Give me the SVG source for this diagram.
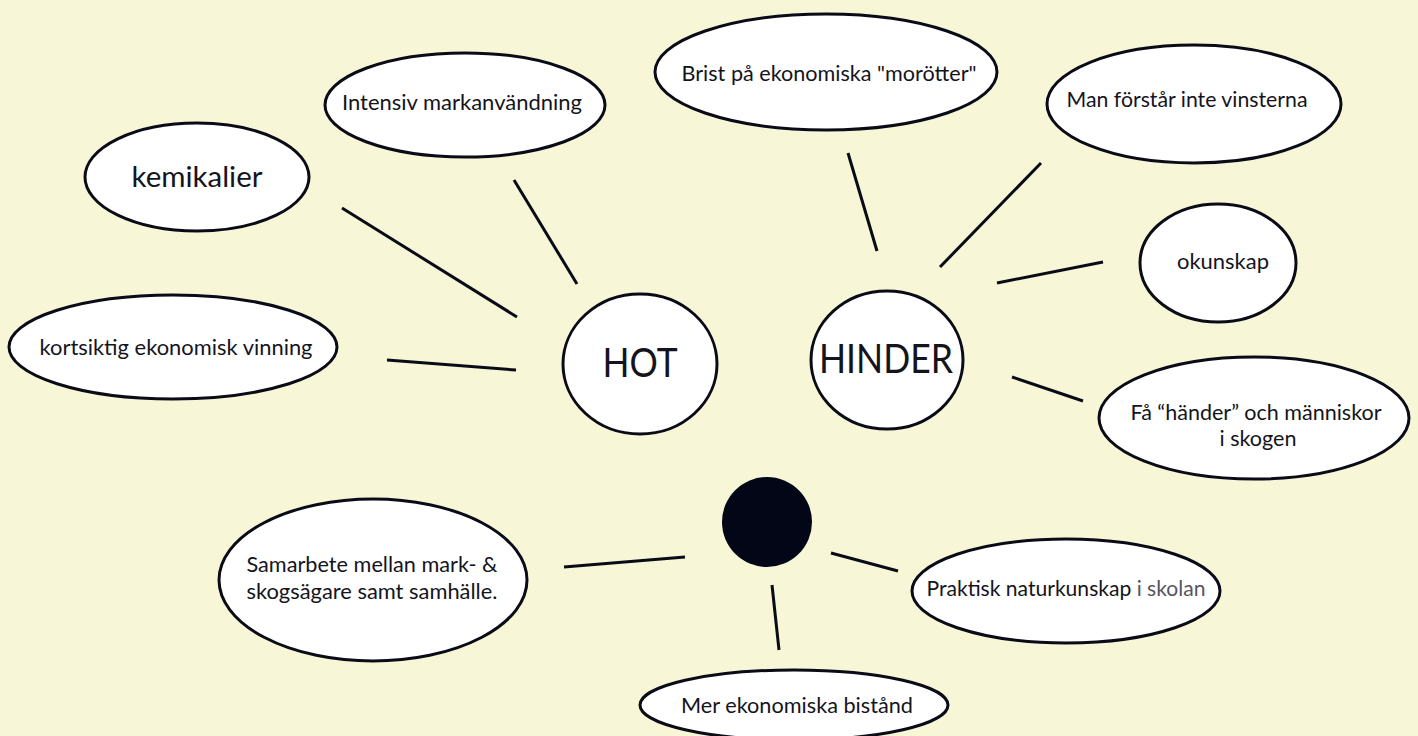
<svg xmlns="http://www.w3.org/2000/svg" width="1418" height="736" viewBox="0 0 1418 736">
<style>
.bg{fill:#f7f7d8}
.node{fill:#ffffff;stroke:#0b0b18;stroke-width:3}
.dot{fill:#030616;stroke:none}
.edge{stroke:#0b0b18;stroke-width:3;fill:none;stroke-linecap:butt}
text{font-family:Lato,"Liberation Sans",sans-serif;fill:#14141c;text-anchor:middle}
.s{font-size:21px}
.m{font-size:29px}
.l{font-size:40px}
.fade{fill:#55555f}
</style>
<rect class="bg" x="0" y="0" width="1418" height="736"/>
<g id="connectors">
<line class="edge" x1="342" y1="208" x2="517" y2="317"/>
<line class="edge" x1="514" y1="180" x2="577" y2="284"/>
<line class="edge" x1="387" y1="360" x2="516" y2="370"/>
<line class="edge" x1="848" y1="153" x2="877" y2="251"/>
<line class="edge" x1="1041" y1="163" x2="940" y2="267"/>
<line class="edge" x1="997" y1="283" x2="1103" y2="262"/>
<line class="edge" x1="1012" y1="377" x2="1083" y2="401"/>
<line class="edge" x1="564" y1="567" x2="685" y2="557"/>
<line class="edge" x1="831" y1="553" x2="898" y2="571"/>
<line class="edge" x1="772" y1="585" x2="779" y2="650"/>
</g>
<g id="kemikalier">
<ellipse class="node" cx="197" cy="177" rx="112" ry="54"/>
<text class="m" x="197" y="187" textLength="131" lengthAdjust="spacingAndGlyphs">kemikalier</text>
</g>
<g id="intensiv">
<ellipse class="node" cx="465" cy="105" rx="140" ry="52"/>
<text class="s" x="462" y="110" textLength="240" lengthAdjust="spacingAndGlyphs">Intensiv markanvändning</text>
</g>
<g id="kortsiktig">
<ellipse class="node" cx="173" cy="347" rx="164" ry="52"/>
<text class="s" x="176" y="355" textLength="273" lengthAdjust="spacingAndGlyphs">kortsiktig ekonomisk vinning</text>
</g>
<g id="hot">
<ellipse class="node" cx="640" cy="364" rx="77" ry="70"/>
<text class="l" x="640" y="377" textLength="75" lengthAdjust="spacingAndGlyphs">HOT</text>
</g>
<g id="hinder">
<ellipse class="node" cx="887" cy="360" rx="76" ry="69"/>
<text class="l" x="886" y="373" textLength="134" lengthAdjust="spacingAndGlyphs">HINDER</text>
</g>
<g id="brist">
<ellipse class="node" cx="826" cy="72" rx="171" ry="58"/>
<text class="s" x="829" y="81" textLength="295" lengthAdjust="spacingAndGlyphs">Brist på ekonomiska "morötter"</text>
</g>
<g id="man">
<ellipse class="node" cx="1194" cy="104" rx="147" ry="59"/>
<text class="s" x="1187" y="107" textLength="241" lengthAdjust="spacingAndGlyphs">Man förstår inte vinsterna</text>
</g>
<g id="okunskap">
<ellipse class="node" cx="1218" cy="263" rx="78" ry="59"/>
<text class="s" x="1223" y="269" textLength="92" lengthAdjust="spacingAndGlyphs">okunskap</text>
</g>
<g id="fa">
<ellipse class="node" cx="1254" cy="418" rx="155" ry="61"/>
<text class="s" x="1256" y="420" textLength="251" lengthAdjust="spacingAndGlyphs">Få “händer” och människor</text>
<text class="s" x="1258" y="446" textLength="77" lengthAdjust="spacingAndGlyphs">i skogen</text>
</g>
<g id="center-dot">
<ellipse class="dot" cx="767" cy="522" rx="45" ry="45"/>
</g>
<g id="samarbete">
<ellipse class="node" cx="373" cy="580" rx="154" ry="81"/>
<text class="s" x="372" y="572" textLength="251" lengthAdjust="spacingAndGlyphs">Samarbete mellan mark- &amp;</text>
<text class="s" x="372" y="599" textLength="251" lengthAdjust="spacingAndGlyphs">skogsägare samt samhälle.</text>
</g>
<g id="praktisk">
<ellipse class="node" cx="1066" cy="591" rx="154" ry="52"/>
<text class="s" x="1066" y="596" textLength="279" lengthAdjust="spacingAndGlyphs">Praktisk naturkunskap <tspan class="fade">i skolan</tspan></text>
</g>
<g id="mer">
<ellipse class="node" cx="794" cy="705" rx="154" ry="35"/>
<text class="s" x="797" y="713" textLength="232" lengthAdjust="spacingAndGlyphs">Mer ekonomiska bistånd</text>
</g>
</svg>
